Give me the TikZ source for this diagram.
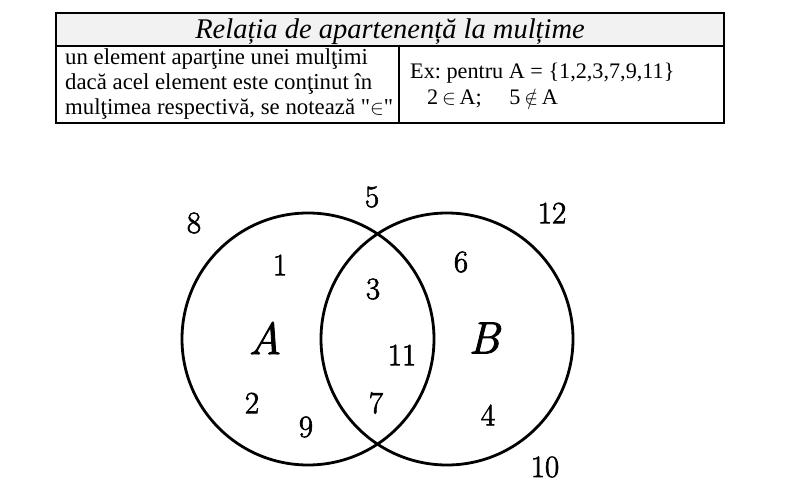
\documentclass[tikz,border=0pt]{standalone}
\usepackage{fontspec}
\setmainfont{Liberation Serif}
\newfontfamily\quotefont{Liberation Serif}
\newfontfamily\vennfont[FakeBold=2]{Latin Modern Roman}
\usetikzlibrary{positioning}
\definecolor{tbheadgray}{HTML}{F2F2F2}
\frenchspacing

\begin{document}
\begin{tikzpicture}[x=1pt,y=-1pt,
 tableframe/.style={draw=black,line width=1.1pt},
 headtext/.style={font=\fontsize{28.5}{32}\selectfont\itshape,anchor=base,inner sep=0pt},
 celltext/.style={font=\fontsize{22.8}{25}\selectfont,anchor=base west,inner sep=0pt},
 extext/.style={font=\fontsize{22.2}{25}\selectfont,anchor=base west,inner sep=0pt,text height=14pt,text depth=0pt},
 setcircle/.style={circle,draw=black,line width=2.8pt,minimum size=252pt,inner sep=0pt},
 vennnum/.style={font=\vennfont\fontsize{31}{36}\selectfont,inner sep=0pt},
 vennlabel/.style={font=\vennfont\itshape\fontsize{45}{54}\selectfont,inner sep=0pt}
]
\useasboundingbox (0,0) rectangle (793,489);
\fill[tbheadgray] (56,13) rectangle (724,46);
\draw[tableframe] (56,13) rectangle (724,123);
\draw[tableframe] (56,46) -- (724,46);
\draw[tableframe] (399,46) -- (399,123);
\node[headtext] (title) at (390,38.5) {Relația de apartenență la mulțime};
\node[celltext] (defa) at (65,64.7) {un element aparţine unei mulţimi};
\node[celltext] (defb) at (65,89.7) {dacă acel element este conţinut în};
\node[celltext] (defc) at (65,114.7) {mulţimea respectivă, se notează {\quotefont"}$\in${\quotefont"}};
\node[extext] (exa) at (410,79) {Ex: pentru A = \{1,2,3,7,9,11\}};
\node[extext] (exb) at (427,105) {2\,$\in$\,A;\quad\ 5\,$\notin$\,A};
\node[setcircle] (setA) at (308,339) {};
\node[setcircle] (setB) at (447,339) {};
\node[vennlabel] (labA) at (265,338) {A};
\node[vennlabel] (labB) at (484,338) {B};
\node[vennnum] (n1) at (280,265) {1};
\node[vennnum] (n2) at (252,403) {2};
\node[vennnum] (n3) at (373,289) {3};
\node[vennnum] (n4) at (488,415) {4};
\node[vennnum] (n5) at (372,197) {5};
\node[vennnum] (n6) at (461,262) {6};
\node[vennnum] (n7) at (376,403) {7};
\node[vennnum] (n8) at (194,223) {8};
\node[vennnum] (n9) at (306,427) {9};
\node[vennnum] (n10) at (545,467) {10};
\node[vennnum] (n11) at (402,355) {11};
\node[vennnum] (n12) at (552,213) {12};
\end{tikzpicture}
\end{document}
